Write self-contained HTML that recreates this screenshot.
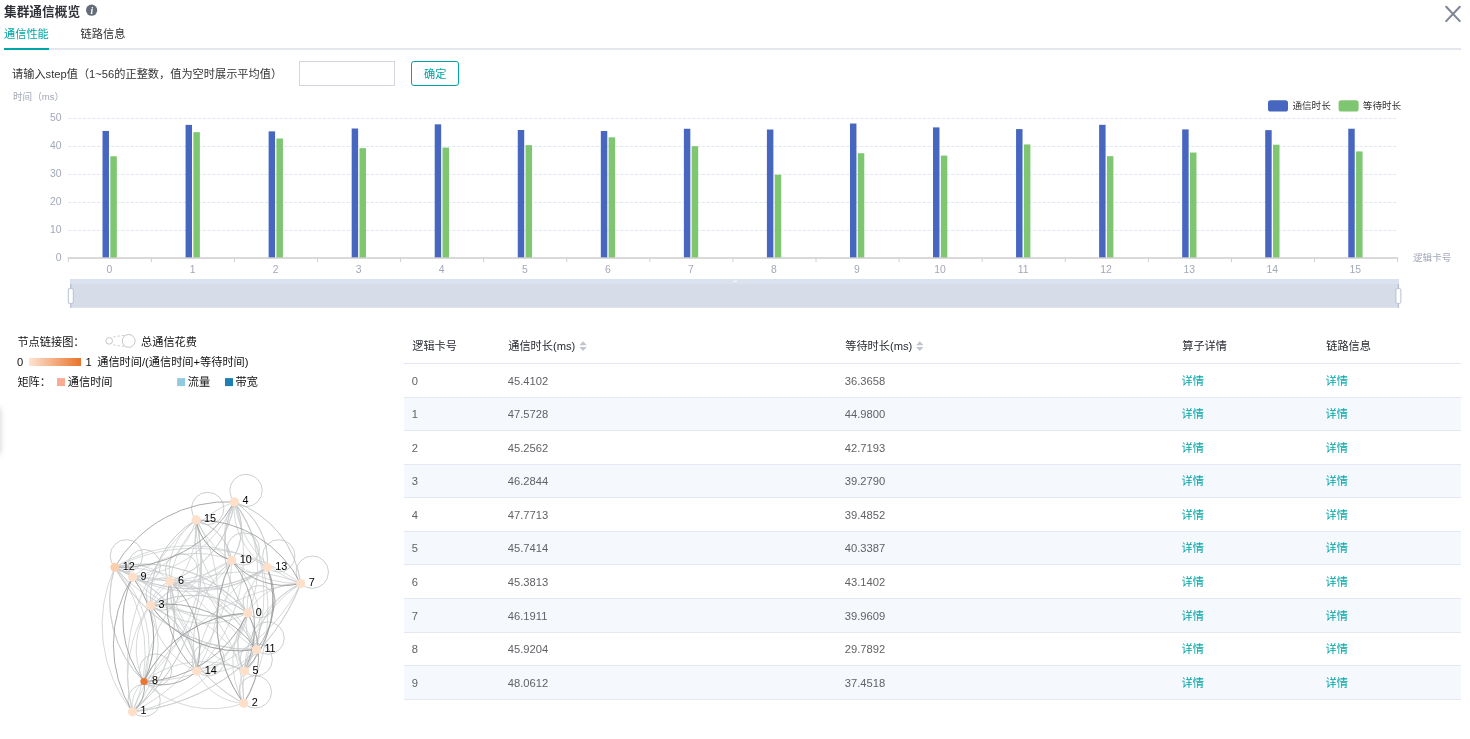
<!DOCTYPE html>
<html lang="zh-CN"><head><meta charset="utf-8"><title>集群通信概览</title>
<style>
html,body{margin:0;padding:0;background:#fff;}
body{width:1470px;height:739px;position:relative;overflow:hidden;font-family:"Liberation Sans", "Noto Sans CJK SC", sans-serif;}
.t{position:absolute;white-space:nowrap;}
.b{position:absolute;}
svg{position:absolute;left:0;top:0;}
svg text{font-family:"Liberation Sans", "Noto Sans CJK SC", sans-serif;}
</style></head><body>

<div class="t" style="left:4px;top:2.50px;font-size:12.7px;color:#2f3238;font-weight:bold;line-height:18px;">集群通信概览</div>
<svg width="110" height="24" viewBox="0 0 110 24"><circle cx="91.6" cy="10.2" r="5.6" fill="#656d7b"/><text x="91.7" y="13.6" font-size="9.5" font-weight="bold" font-style="italic" fill="#fff" text-anchor="middle" style="font-family:'Liberation Serif',serif">i</text></svg>
<svg width="1470" height="30" viewBox="0 0 1470 30"><path d="M1446.2 6.8 L1459.8 21.1 M1459.8 6.8 L1446.2 21.1" stroke="#7f8695" stroke-width="2.1" stroke-linecap="round" fill="none"/></svg>
<div class="t" style="left:4px;top:26.00px;font-size:11.2px;color:#00a5a7;font-weight:normal;line-height:16px;">通信性能</div>
<div class="t" style="left:80.6px;top:26.00px;font-size:11.2px;color:#303133;font-weight:normal;line-height:16px;">链路信息</div>
<div class="b" style="left:4px;top:47.7px;width:1457px;height:2px;background:#e4e7ed"></div>
<div class="b" style="left:4px;top:47.7px;width:45px;height:2px;background:#00a5a7"></div>
<div class="t" style="left:12px;top:66.00px;font-size:11.2px;color:#333;font-weight:normal;line-height:16px;">请输入step值（1~56的正整数，值为空时展示平均值）</div>
<div class="b" style="left:299px;top:61.3px;width:94px;height:22.6px;border:1px solid #d3d6df;background:#fff"></div>
<div class="b" style="left:411px;top:61.3px;width:46px;height:22.6px;border:1px solid #00a5a7;border-radius:3px;background:#fff"></div>
<div class="t" style="left:424px;top:65.60px;font-size:11.2px;color:#00a5a7;font-weight:normal;line-height:16px;">确定</div>
<div class="t" style="left:13px;top:90.00px;font-size:9.6px;color:#a3a8b8;font-weight:normal;line-height:14px;">时间（ms）</div>
<svg width="1470" height="320" viewBox="0 0 1470 320">
<line x1="68.2" y1="230.4" x2="1397.0" y2="230.4" stroke="#dfe5f2" stroke-width="1" stroke-dasharray="3.2 1.6"/>
<line x1="68.2" y1="202.4" x2="1397.0" y2="202.4" stroke="#dfe5f2" stroke-width="1" stroke-dasharray="3.2 1.6"/>
<line x1="68.2" y1="174.4" x2="1397.0" y2="174.4" stroke="#dfe5f2" stroke-width="1" stroke-dasharray="3.2 1.6"/>
<line x1="68.2" y1="146.4" x2="1397.0" y2="146.4" stroke="#dfe5f2" stroke-width="1" stroke-dasharray="3.2 1.6"/>
<line x1="68.2" y1="118.4" x2="1397.0" y2="118.4" stroke="#dfe5f2" stroke-width="1" stroke-dasharray="3.2 1.6"/>
<text x="61.5" y="261.3" font-size="10.4" fill="#a3a8b8" text-anchor="end">0</text>
<text x="61.5" y="233.3" font-size="10.4" fill="#a3a8b8" text-anchor="end">10</text>
<text x="61.5" y="205.3" font-size="10.4" fill="#a3a8b8" text-anchor="end">20</text>
<text x="61.5" y="177.3" font-size="10.4" fill="#a3a8b8" text-anchor="end">30</text>
<text x="61.5" y="149.3" font-size="10.4" fill="#a3a8b8" text-anchor="end">40</text>
<text x="61.5" y="121.3" font-size="10.4" fill="#a3a8b8" text-anchor="end">50</text>
<rect x="102.52" y="130.95" width="6.45" height="127.05" fill="#4666bf"/>
<rect x="110.32" y="156.28" width="6.5" height="101.72" fill="#7fc671"/>
<text x="109.5" y="272.6" font-size="10.4" fill="#a3a8b8" text-anchor="middle">0</text>
<rect x="185.57" y="124.90" width="6.45" height="133.10" fill="#4666bf"/>
<rect x="193.37" y="132.16" width="6.5" height="125.84" fill="#7fc671"/>
<text x="192.6" y="272.6" font-size="10.4" fill="#a3a8b8" text-anchor="middle">1</text>
<rect x="268.62" y="131.38" width="6.45" height="126.62" fill="#4666bf"/>
<rect x="276.43" y="138.49" width="6.5" height="119.51" fill="#7fc671"/>
<text x="275.6" y="272.6" font-size="10.4" fill="#a3a8b8" text-anchor="middle">2</text>
<rect x="351.68" y="128.50" width="6.45" height="129.50" fill="#4666bf"/>
<rect x="359.48" y="148.12" width="6.5" height="109.88" fill="#7fc671"/>
<text x="358.7" y="272.6" font-size="10.4" fill="#a3a8b8" text-anchor="middle">3</text>
<rect x="434.72" y="124.34" width="6.45" height="133.66" fill="#4666bf"/>
<rect x="442.52" y="147.54" width="6.5" height="110.46" fill="#7fc671"/>
<text x="441.7" y="272.6" font-size="10.4" fill="#a3a8b8" text-anchor="middle">4</text>
<rect x="517.77" y="130.02" width="6.45" height="127.98" fill="#4666bf"/>
<rect x="525.58" y="145.15" width="6.5" height="112.85" fill="#7fc671"/>
<text x="524.8" y="272.6" font-size="10.4" fill="#a3a8b8" text-anchor="middle">5</text>
<rect x="600.82" y="131.03" width="6.45" height="126.97" fill="#4666bf"/>
<rect x="608.62" y="137.31" width="6.5" height="120.69" fill="#7fc671"/>
<text x="607.8" y="272.6" font-size="10.4" fill="#a3a8b8" text-anchor="middle">6</text>
<rect x="683.88" y="128.76" width="6.45" height="129.24" fill="#4666bf"/>
<rect x="691.68" y="146.21" width="6.5" height="111.79" fill="#7fc671"/>
<text x="690.9" y="272.6" font-size="10.4" fill="#a3a8b8" text-anchor="middle">7</text>
<rect x="766.92" y="129.52" width="6.45" height="128.48" fill="#4666bf"/>
<rect x="774.73" y="174.69" width="6.5" height="83.31" fill="#7fc671"/>
<text x="773.9" y="272.6" font-size="10.4" fill="#a3a8b8" text-anchor="middle">8</text>
<rect x="849.98" y="123.53" width="6.45" height="134.47" fill="#4666bf"/>
<rect x="857.78" y="153.23" width="6.5" height="104.77" fill="#7fc671"/>
<text x="857.0" y="272.6" font-size="10.4" fill="#a3a8b8" text-anchor="middle">9</text>
<rect x="933.02" y="127.40" width="6.45" height="130.60" fill="#4666bf"/>
<rect x="940.83" y="155.62" width="6.5" height="102.38" fill="#7fc671"/>
<text x="940.0" y="272.6" font-size="10.4" fill="#a3a8b8" text-anchor="middle">10</text>
<rect x="1016.07" y="129.10" width="6.45" height="128.90" fill="#4666bf"/>
<rect x="1023.88" y="144.42" width="6.5" height="113.58" fill="#7fc671"/>
<text x="1023.1" y="272.6" font-size="10.4" fill="#a3a8b8" text-anchor="middle">11</text>
<rect x="1099.12" y="124.82" width="6.45" height="133.18" fill="#4666bf"/>
<rect x="1106.92" y="156.18" width="6.5" height="101.82" fill="#7fc671"/>
<text x="1106.1" y="272.6" font-size="10.4" fill="#a3a8b8" text-anchor="middle">12</text>
<rect x="1182.17" y="129.41" width="6.45" height="128.59" fill="#4666bf"/>
<rect x="1189.97" y="152.54" width="6.5" height="105.46" fill="#7fc671"/>
<text x="1189.2" y="272.6" font-size="10.4" fill="#a3a8b8" text-anchor="middle">13</text>
<rect x="1265.22" y="130.14" width="6.45" height="127.86" fill="#4666bf"/>
<rect x="1273.02" y="144.70" width="6.5" height="113.30" fill="#7fc671"/>
<text x="1272.2" y="272.6" font-size="10.4" fill="#a3a8b8" text-anchor="middle">14</text>
<rect x="1348.27" y="128.74" width="6.45" height="129.26" fill="#4666bf"/>
<rect x="1356.07" y="151.42" width="6.5" height="106.58" fill="#7fc671"/>
<text x="1355.3" y="272.6" font-size="10.4" fill="#a3a8b8" text-anchor="middle">15</text>
<line x1="67.8" y1="258" x2="1398.1" y2="258" stroke="#cdcdcd" stroke-width="1.4"/>
<line x1="68.30" y1="258" x2="68.30" y2="262" stroke="#cfcfcf" stroke-width="1"/>
<line x1="151.38" y1="258" x2="151.38" y2="262" stroke="#cfcfcf" stroke-width="1"/>
<line x1="234.46" y1="258" x2="234.46" y2="262" stroke="#cfcfcf" stroke-width="1"/>
<line x1="317.54" y1="258" x2="317.54" y2="262" stroke="#cfcfcf" stroke-width="1"/>
<line x1="400.62" y1="258" x2="400.62" y2="262" stroke="#cfcfcf" stroke-width="1"/>
<line x1="483.71" y1="258" x2="483.71" y2="262" stroke="#cfcfcf" stroke-width="1"/>
<line x1="566.79" y1="258" x2="566.79" y2="262" stroke="#cfcfcf" stroke-width="1"/>
<line x1="649.87" y1="258" x2="649.87" y2="262" stroke="#cfcfcf" stroke-width="1"/>
<line x1="732.95" y1="258" x2="732.95" y2="262" stroke="#cfcfcf" stroke-width="1"/>
<line x1="816.03" y1="258" x2="816.03" y2="262" stroke="#cfcfcf" stroke-width="1"/>
<line x1="899.11" y1="258" x2="899.11" y2="262" stroke="#cfcfcf" stroke-width="1"/>
<line x1="982.19" y1="258" x2="982.19" y2="262" stroke="#cfcfcf" stroke-width="1"/>
<line x1="1065.27" y1="258" x2="1065.27" y2="262" stroke="#cfcfcf" stroke-width="1"/>
<line x1="1148.36" y1="258" x2="1148.36" y2="262" stroke="#cfcfcf" stroke-width="1"/>
<line x1="1231.44" y1="258" x2="1231.44" y2="262" stroke="#cfcfcf" stroke-width="1"/>
<line x1="1314.52" y1="258" x2="1314.52" y2="262" stroke="#cfcfcf" stroke-width="1"/>
<line x1="1397.60" y1="258" x2="1397.60" y2="262" stroke="#cfcfcf" stroke-width="1"/>
<text x="1413" y="261.2" font-size="9.6" fill="#a3a8b8">逻辑卡号</text>
<rect x="1268" y="100.3" width="20" height="11.2" rx="2.6" fill="#4666bf"/>
<text x="1292.4" y="109.4" font-size="9.6" fill="#333">通信时长</text>
<rect x="1338.6" y="100.3" width="20" height="11.2" rx="2.6" fill="#7fc671"/>
<text x="1362.8" y="109.4" font-size="9.6" fill="#333">等待时长</text>
<rect x="70" y="279" width="1329" height="5" fill="#dae2ef"/>
<rect x="70" y="284" width="1329" height="23.8" fill="#d6dde8"/>
<line x1="70.8" y1="284" x2="70.8" y2="307.8" stroke="#b7c2d8" stroke-width="1.4"/>
<rect x="68.3" y="288.5" width="5" height="15" rx="1.6" fill="#fff" stroke="#b4bfd7" stroke-width="1"/>
<line x1="1398.4" y1="284" x2="1398.4" y2="307.8" stroke="#b7c2d8" stroke-width="1.4"/>
<rect x="1395.9" y="288.5" width="5" height="15" rx="1.6" fill="#fff" stroke="#b4bfd7" stroke-width="1"/>
<rect x="733" y="280.6" width="4" height="1.4" fill="#f3f6fb"/>
</svg>
<div class="t" style="left:17.4px;top:334.20px;font-size:11.2px;color:#111;font-weight:normal;line-height:16px;">节点链接图：</div>
<svg width="400" height="400" viewBox="0 0 400 400"><circle cx="109.2" cy="340.9" r="3.3" fill="#fff" stroke="#c6c6c6" stroke-width="1"/><circle cx="128.7" cy="340.9" r="6.4" fill="#fff" stroke="#c6c6c6" stroke-width="1"/><path d="M113.3 336.9 L124.6 335.3 M113.3 344.9 L124.6 346.5" stroke="#cfcfcf" stroke-width="1" stroke-dasharray="2.4 1.9" fill="none"/><defs><linearGradient id="og" x1="0" x2="1" y1="0" y2="0"><stop offset="0" stop-color="#fde4d1"/><stop offset="1" stop-color="#e8732b"/></linearGradient></defs><rect x="29" y="358" width="52" height="8" fill="url(#og)"/><rect x="57" y="378.1" width="8" height="8" fill="#fbab91"/><rect x="177.1" y="378.1" width="8" height="8" fill="#92cae0"/><rect x="225" y="378.1" width="8" height="8" fill="#1c80b5"/></svg>
<div class="t" style="left:141px;top:334.20px;font-size:11.2px;color:#111;font-weight:normal;line-height:16px;">总通信花费</div>
<div class="t" style="left:17px;top:354.30px;font-size:11.2px;color:#111;font-weight:normal;line-height:16px;">0</div>
<div class="t" style="left:85.6px;top:354.30px;font-size:11.2px;color:#111;font-weight:normal;line-height:16px;">1</div>
<div class="t" style="left:97.2px;top:354.30px;font-size:11.2px;color:#111;font-weight:normal;line-height:16px;">通信时间/(通信时间+等待时间)</div>
<div class="t" style="left:17.4px;top:374.30px;font-size:11.2px;color:#111;font-weight:normal;line-height:16px;">矩阵：</div>
<div class="t" style="left:67.8px;top:374.30px;font-size:11.2px;color:#111;font-weight:normal;line-height:16px;">通信时间</div>
<div class="t" style="left:187.8px;top:374.30px;font-size:11.2px;color:#111;font-weight:normal;line-height:16px;">流量</div>
<div class="t" style="left:235.6px;top:374.30px;font-size:11.2px;color:#111;font-weight:normal;line-height:16px;">带宽</div>
<div class="b" style="left:-8px;top:408px;width:8px;height:46px;box-shadow:0 0 6px rgba(0,0,0,.2)"></div>
<svg width="400" height="739" viewBox="0 0 400 739" fill="none">
<circle cx="246.0" cy="490.5" r="16.2" stroke="#c6c8ca" stroke-width="0.9"/>
<circle cx="207.7" cy="508.5" r="16.2" stroke="#c6c8ca" stroke-width="0.9"/>
<circle cx="126.4" cy="555.8" r="16.2" stroke="#c6c8ca" stroke-width="0.9"/>
<circle cx="144.2" cy="565.7" r="16.2" stroke="#c6c8ca" stroke-width="0.9"/>
<circle cx="181.6" cy="569.9" r="16.2" stroke="#c6c8ca" stroke-width="0.9"/>
<circle cx="243.3" cy="549.0" r="16.2" stroke="#c6c8ca" stroke-width="0.9"/>
<circle cx="278.8" cy="555.9" r="16.2" stroke="#c6c8ca" stroke-width="0.9"/>
<circle cx="312.3" cy="572.2" r="16.2" stroke="#c6c8ca" stroke-width="0.9"/>
<circle cx="162.2" cy="594.1" r="16.2" stroke="#c6c8ca" stroke-width="0.9"/>
<circle cx="259.3" cy="601.7" r="16.2" stroke="#c6c8ca" stroke-width="0.9"/>
<circle cx="268.0" cy="638.1" r="16.2" stroke="#c6c8ca" stroke-width="0.9"/>
<circle cx="208.3" cy="659.7" r="16.2" stroke="#c6c8ca" stroke-width="0.9"/>
<circle cx="256.2" cy="659.7" r="16.2" stroke="#c6c8ca" stroke-width="0.9"/>
<circle cx="155.6" cy="670.1" r="16.2" stroke="#c6c8ca" stroke-width="0.9"/>
<circle cx="255.3" cy="691.9" r="16.2" stroke="#c6c8ca" stroke-width="0.9"/>
<circle cx="144.1" cy="700.4" r="16.2" stroke="#c6c8ca" stroke-width="0.9"/>
<path d="M247.7 613.1 A144.1 144.1 0 0 1 132.5 711.8" stroke="#c6c8ca" stroke-width="0.7"/>
<path d="M243.7 703.3 A85.8 85.8 0 0 1 247.7 613.1" stroke="#c6c8ca" stroke-width="0.7"/>
<path d="M150.6 605.5 A92.5 92.5 0 0 1 247.7 613.1" stroke="#c6c8ca" stroke-width="0.7"/>
<path d="M150.6 605.5 A92.5 92.5 0 0 1 247.7 613.1" stroke="#c6c8ca" stroke-width="0.7"/>
<path d="M247.7 613.1 A92.5 92.5 0 0 1 150.6 605.5" stroke="#c6c8ca" stroke-width="0.7"/>
<path d="M247.7 613.1 A106.4 106.4 0 0 1 234.4 501.9" stroke="#c6c8ca" stroke-width="0.7"/>
<path d="M234.4 501.9 A106.4 106.4 0 0 1 247.7 613.1" stroke="#c6c8ca" stroke-width="0.7"/>
<path d="M247.7 613.1 A106.4 106.4 0 0 1 234.4 501.9" stroke="#c6c8ca" stroke-width="0.7"/>
<path d="M244.6 671.1 A55.2 55.2 0 0 1 247.7 613.1" stroke="#c6c8ca" stroke-width="0.7"/>
<path d="M244.6 671.1 A55.2 55.2 0 0 1 247.7 613.1" stroke="#c6c8ca" stroke-width="0.7"/>
<path d="M247.7 613.1 A55.2 55.2 0 0 1 244.6 671.1" stroke="#c6c8ca" stroke-width="0.7"/>
<path d="M170.0 581.3 A79.8 79.8 0 0 1 247.7 613.1" stroke="#c6c8ca" stroke-width="0.7"/>
<path d="M247.7 613.1 A57.6 57.6 0 0 1 300.7 583.6" stroke="#c6c8ca" stroke-width="0.7"/>
<path d="M144.0 681.5 A118.0 118.0 0 0 1 247.7 613.1" stroke="#c6c8ca" stroke-width="0.7"/>
<path d="M247.7 613.1 A114.6 114.6 0 0 1 132.6 577.1" stroke="#c6c8ca" stroke-width="0.7"/>
<path d="M256.4 649.5 A35.6 35.6 0 0 1 247.7 613.1" stroke="#c6c8ca" stroke-width="0.7"/>
<path d="M114.8 567.2 A133.6 133.6 0 0 1 247.7 613.1" stroke="#c6c8ca" stroke-width="0.7"/>
<path d="M114.8 567.2 A133.6 133.6 0 0 1 247.7 613.1" stroke="#c6c8ca" stroke-width="0.7"/>
<path d="M247.7 613.1 A133.6 133.6 0 0 1 114.8 567.2" stroke="#c6c8ca" stroke-width="0.7"/>
<path d="M247.7 613.1 A47.3 47.3 0 0 1 267.2 567.3" stroke="#c6c8ca" stroke-width="0.7"/>
<path d="M247.7 613.1 A73.4 73.4 0 0 1 196.7 671.1" stroke="#c6c8ca" stroke-width="0.7"/>
<path d="M247.7 613.1 A101.2 101.2 0 0 1 196.1 519.9" stroke="#c6c8ca" stroke-width="0.7"/>
<path d="M150.6 605.5 A102.4 102.4 0 0 1 132.5 711.8" stroke="#c6c8ca" stroke-width="0.7"/>
<path d="M170.0 581.3 A129.0 129.0 0 0 1 132.5 711.8" stroke="#c6c8ca" stroke-width="0.7"/>
<path d="M170.0 581.3 A129.0 129.0 0 0 1 132.5 711.8" stroke="#c6c8ca" stroke-width="0.7"/>
<path d="M132.5 711.8 A129.0 129.0 0 0 1 170.0 581.3" stroke="#c6c8ca" stroke-width="0.7"/>
<path d="M300.7 583.6 A200.9 200.9 0 0 1 132.5 711.8" stroke="#c6c8ca" stroke-width="0.7"/>
<path d="M300.7 583.6 A200.9 200.9 0 0 1 132.5 711.8" stroke="#c6c8ca" stroke-width="0.7"/>
<path d="M132.5 711.8 A200.9 200.9 0 0 1 300.7 583.6" stroke="#c6c8ca" stroke-width="0.7"/>
<path d="M132.5 711.8 A30.8 30.8 0 0 1 144.0 681.5" stroke="#c6c8ca" stroke-width="0.7"/>
<path d="M231.7 560.4 A172.0 172.0 0 0 1 132.5 711.8" stroke="#c6c8ca" stroke-width="0.7"/>
<path d="M114.8 567.2 A138.4 138.4 0 0 1 132.5 711.8" stroke="#c6c8ca" stroke-width="0.7"/>
<path d="M196.1 519.9 A192.1 192.1 0 0 1 132.5 711.8" stroke="#c6c8ca" stroke-width="0.7"/>
<path d="M196.1 519.9 A192.1 192.1 0 0 1 132.5 711.8" stroke="#c6c8ca" stroke-width="0.7"/>
<path d="M132.5 711.8 A192.1 192.1 0 0 1 196.1 519.9" stroke="#c6c8ca" stroke-width="0.7"/>
<path d="M234.4 501.9 A191.5 191.5 0 0 1 243.7 703.3" stroke="#c6c8ca" stroke-width="0.7"/>
<path d="M243.7 703.3 A30.6 30.6 0 0 1 244.6 671.1" stroke="#c6c8ca" stroke-width="0.7"/>
<path d="M243.7 703.3 A135.4 135.4 0 0 1 170.0 581.3" stroke="#c6c8ca" stroke-width="0.7"/>
<path d="M170.0 581.3 A135.4 135.4 0 0 1 243.7 703.3" stroke="#c6c8ca" stroke-width="0.7"/>
<path d="M243.7 703.3 A135.4 135.4 0 0 1 170.0 581.3" stroke="#c6c8ca" stroke-width="0.7"/>
<path d="M243.7 703.3 A125.9 125.9 0 0 1 300.7 583.6" stroke="#c6c8ca" stroke-width="0.7"/>
<path d="M243.7 703.3 A97.0 97.0 0 0 1 144.0 681.5" stroke="#c6c8ca" stroke-width="0.7"/>
<path d="M243.7 703.3 A136.2 136.2 0 0 1 231.7 560.4" stroke="#c6c8ca" stroke-width="0.7"/>
<path d="M243.7 703.3 A54.1 54.1 0 0 1 196.7 671.1" stroke="#c6c8ca" stroke-width="0.7"/>
<path d="M150.6 605.5 A108.9 108.9 0 0 1 244.6 671.1" stroke="#c6c8ca" stroke-width="0.7"/>
<path d="M150.6 605.5 A29.5 29.5 0 0 1 170.0 581.3" stroke="#c6c8ca" stroke-width="0.7"/>
<path d="M150.6 605.5 A144.1 144.1 0 0 1 300.7 583.6" stroke="#c6c8ca" stroke-width="0.7"/>
<path d="M144.0 681.5 A72.5 72.5 0 0 1 150.6 605.5" stroke="#c6c8ca" stroke-width="0.7"/>
<path d="M231.7 560.4 A88.2 88.2 0 0 1 150.6 605.5" stroke="#c6c8ca" stroke-width="0.7"/>
<path d="M256.4 649.5 A108.9 108.9 0 0 1 150.6 605.5" stroke="#c6c8ca" stroke-width="0.7"/>
<path d="M150.6 605.5 A76.2 76.2 0 0 1 196.7 671.1" stroke="#c6c8ca" stroke-width="0.7"/>
<path d="M196.7 671.1 A76.2 76.2 0 0 1 150.6 605.5" stroke="#c6c8ca" stroke-width="0.7"/>
<path d="M150.6 605.5 A76.2 76.2 0 0 1 196.7 671.1" stroke="#c6c8ca" stroke-width="0.7"/>
<path d="M150.6 605.5 A92.1 92.1 0 0 1 196.1 519.9" stroke="#c6c8ca" stroke-width="0.7"/>
<path d="M196.1 519.9 A92.1 92.1 0 0 1 150.6 605.5" stroke="#c6c8ca" stroke-width="0.7"/>
<path d="M150.6 605.5 A92.1 92.1 0 0 1 196.1 519.9" stroke="#c6c8ca" stroke-width="0.7"/>
<path d="M234.4 501.9 A161.0 161.0 0 0 1 244.6 671.1" stroke="#c6c8ca" stroke-width="0.7"/>
<path d="M234.4 501.9 A97.1 97.1 0 0 1 170.0 581.3" stroke="#c6c8ca" stroke-width="0.7"/>
<path d="M170.0 581.3 A97.1 97.1 0 0 1 234.4 501.9" stroke="#c6c8ca" stroke-width="0.7"/>
<path d="M234.4 501.9 A97.1 97.1 0 0 1 170.0 581.3" stroke="#c6c8ca" stroke-width="0.7"/>
<path d="M234.4 501.9 A100.0 100.0 0 0 1 300.7 583.6" stroke="#c6c8ca" stroke-width="0.7"/>
<path d="M300.7 583.6 A100.0 100.0 0 0 1 234.4 501.9" stroke="#c6c8ca" stroke-width="0.7"/>
<path d="M234.4 501.9 A100.0 100.0 0 0 1 300.7 583.6" stroke="#c6c8ca" stroke-width="0.7"/>
<path d="M234.4 501.9 A120.2 120.2 0 0 1 132.6 577.1" stroke="#c6c8ca" stroke-width="0.7"/>
<path d="M234.4 501.9 A55.6 55.6 0 0 1 231.7 560.4" stroke="#c6c8ca" stroke-width="0.7"/>
<path d="M231.7 560.4 A55.6 55.6 0 0 1 234.4 501.9" stroke="#c6c8ca" stroke-width="0.7"/>
<path d="M234.4 501.9 A55.6 55.6 0 0 1 231.7 560.4" stroke="#c6c8ca" stroke-width="0.7"/>
<path d="M234.4 501.9 A69.5 69.5 0 0 1 267.2 567.3" stroke="#c6c8ca" stroke-width="0.7"/>
<path d="M267.2 567.3 A69.5 69.5 0 0 1 234.4 501.9" stroke="#c6c8ca" stroke-width="0.7"/>
<path d="M234.4 501.9 A69.5 69.5 0 0 1 267.2 567.3" stroke="#c6c8ca" stroke-width="0.7"/>
<path d="M234.4 501.9 A164.7 164.7 0 0 1 196.7 671.1" stroke="#c6c8ca" stroke-width="0.7"/>
<path d="M244.6 671.1 A110.9 110.9 0 0 1 170.0 581.3" stroke="#c6c8ca" stroke-width="0.7"/>
<path d="M244.6 671.1 A98.7 98.7 0 0 1 300.7 583.6" stroke="#c6c8ca" stroke-width="0.7"/>
<path d="M144.0 681.5 A96.1 96.1 0 0 1 244.6 671.1" stroke="#c6c8ca" stroke-width="0.7"/>
<path d="M244.6 671.1 A23.4 23.4 0 0 1 256.4 649.5" stroke="#c6c8ca" stroke-width="0.7"/>
<path d="M256.4 649.5 A23.4 23.4 0 0 1 244.6 671.1" stroke="#c6c8ca" stroke-width="0.7"/>
<path d="M244.6 671.1 A23.4 23.4 0 0 1 256.4 649.5" stroke="#c6c8ca" stroke-width="0.7"/>
<path d="M267.2 567.3 A100.9 100.9 0 0 1 244.6 671.1" stroke="#c6c8ca" stroke-width="0.7"/>
<path d="M196.7 671.1 A45.5 45.5 0 0 1 244.6 671.1" stroke="#c6c8ca" stroke-width="0.7"/>
<path d="M231.7 560.4 A61.9 61.9 0 0 1 170.0 581.3" stroke="#c6c8ca" stroke-width="0.7"/>
<path d="M170.0 581.3 A104.6 104.6 0 0 1 256.4 649.5" stroke="#c6c8ca" stroke-width="0.7"/>
<path d="M114.8 567.2 A54.1 54.1 0 0 1 170.0 581.3" stroke="#c6c8ca" stroke-width="0.7"/>
<path d="M267.2 567.3 A93.3 93.3 0 0 1 170.0 581.3" stroke="#c6c8ca" stroke-width="0.7"/>
<path d="M170.0 581.3 A63.4 63.4 0 0 1 196.1 519.9" stroke="#c6c8ca" stroke-width="0.7"/>
<path d="M300.7 583.6 A175.5 175.5 0 0 1 144.0 681.5" stroke="#c6c8ca" stroke-width="0.7"/>
<path d="M256.4 649.5 A75.4 75.4 0 0 1 300.7 583.6" stroke="#c6c8ca" stroke-width="0.7"/>
<path d="M114.8 567.2 A177.3 177.3 0 0 1 300.7 583.6" stroke="#c6c8ca" stroke-width="0.7"/>
<path d="M300.7 583.6 A116.3 116.3 0 0 1 196.1 519.9" stroke="#c6c8ca" stroke-width="0.7"/>
<path d="M132.6 577.1 A99.8 99.8 0 0 1 144.0 681.5" stroke="#c6c8ca" stroke-width="0.7"/>
<path d="M144.0 681.5 A142.0 142.0 0 0 1 231.7 560.4" stroke="#c6c8ca" stroke-width="0.7"/>
<path d="M144.0 681.5 A112.1 112.1 0 0 1 114.8 567.2" stroke="#c6c8ca" stroke-width="0.7"/>
<path d="M114.8 567.2 A112.1 112.1 0 0 1 144.0 681.5" stroke="#c6c8ca" stroke-width="0.7"/>
<path d="M144.0 681.5 A112.1 112.1 0 0 1 114.8 567.2" stroke="#c6c8ca" stroke-width="0.7"/>
<path d="M196.1 519.9 A161.3 161.3 0 0 1 144.0 681.5" stroke="#c6c8ca" stroke-width="0.7"/>
<path d="M132.6 577.1 A95.5 95.5 0 0 1 231.7 560.4" stroke="#c6c8ca" stroke-width="0.7"/>
<path d="M132.6 577.1 A136.2 136.2 0 0 1 256.4 649.5" stroke="#c6c8ca" stroke-width="0.7"/>
<path d="M114.8 567.2 A19.3 19.3 0 0 1 132.6 577.1" stroke="#c6c8ca" stroke-width="0.7"/>
<path d="M267.2 567.3 A128.2 128.2 0 0 1 132.6 577.1" stroke="#c6c8ca" stroke-width="0.7"/>
<path d="M132.6 577.1 A108.1 108.1 0 0 1 196.7 671.1" stroke="#c6c8ca" stroke-width="0.7"/>
<path d="M196.1 519.9 A81.2 81.2 0 0 1 132.6 577.1" stroke="#c6c8ca" stroke-width="0.7"/>
<path d="M231.7 560.4 A87.8 87.8 0 0 1 256.4 649.5" stroke="#c6c8ca" stroke-width="0.7"/>
<path d="M231.7 560.4 A111.2 111.2 0 0 1 114.8 567.2" stroke="#c6c8ca" stroke-width="0.7"/>
<path d="M196.7 671.1 A110.3 110.3 0 0 1 231.7 560.4" stroke="#c6c8ca" stroke-width="0.7"/>
<path d="M196.1 519.9 A51.2 51.2 0 0 1 231.7 560.4" stroke="#c6c8ca" stroke-width="0.7"/>
<path d="M196.1 519.9 A51.2 51.2 0 0 1 231.7 560.4" stroke="#c6c8ca" stroke-width="0.7"/>
<path d="M231.7 560.4 A51.2 51.2 0 0 1 196.1 519.9" stroke="#c6c8ca" stroke-width="0.7"/>
<path d="M256.4 649.5 A155.6 155.6 0 0 1 114.8 567.2" stroke="#c6c8ca" stroke-width="0.7"/>
<path d="M114.8 567.2 A155.6 155.6 0 0 1 256.4 649.5" stroke="#c6c8ca" stroke-width="0.7"/>
<path d="M256.4 649.5 A155.6 155.6 0 0 1 114.8 567.2" stroke="#c6c8ca" stroke-width="0.7"/>
<path d="M256.4 649.5 A60.3 60.3 0 0 1 196.7 671.1" stroke="#c6c8ca" stroke-width="0.7"/>
<path d="M256.4 649.5 A135.8 135.8 0 0 1 196.1 519.9" stroke="#c6c8ca" stroke-width="0.7"/>
<path d="M267.2 567.3 A144.8 144.8 0 0 1 114.8 567.2" stroke="#c6c8ca" stroke-width="0.7"/>
<path d="M267.2 567.3 A144.8 144.8 0 0 1 114.8 567.2" stroke="#c6c8ca" stroke-width="0.7"/>
<path d="M114.8 567.2 A144.8 144.8 0 0 1 267.2 567.3" stroke="#c6c8ca" stroke-width="0.7"/>
<path d="M114.8 567.2 A125.7 125.7 0 0 1 196.7 671.1" stroke="#c6c8ca" stroke-width="0.7"/>
<path d="M196.7 671.1 A119.2 119.2 0 0 1 267.2 567.3" stroke="#c6c8ca" stroke-width="0.7"/>
<path d="M196.1 519.9 A143.6 143.6 0 0 1 196.7 671.1" stroke="#c6c8ca" stroke-width="0.7"/>
<path d="M132.5 711.8 A138.4 138.4 0 0 1 114.8 567.2" stroke="#c6c8ca" stroke-width="0.7"/>
<path d="M114.8 567.2 A129.5 129.5 0 0 1 234.4 501.9" stroke="#959595" stroke-width="0.8"/>
<path d="M234.4 501.9 A129.5 129.5 0 0 1 114.8 567.2" stroke="#959595" stroke-width="0.8"/>
<path d="M231.7 560.4 A51.2 51.2 0 0 1 196.1 519.9" stroke="#959595" stroke-width="0.8"/>
<path d="M196.1 519.9 A116.3 116.3 0 0 1 300.7 583.6" stroke="#959595" stroke-width="0.8"/>
<path d="M300.7 583.6 A69.2 69.2 0 0 1 231.7 560.4" stroke="#959595" stroke-width="0.8"/>
<path d="M144.0 681.5 A118.0 118.0 0 0 1 247.7 613.1" stroke="#959595" stroke-width="0.8"/>
<path d="M150.6 605.5 A108.9 108.9 0 0 1 256.4 649.5" stroke="#959595" stroke-width="0.8"/>
<path d="M256.4 649.5 A108.9 108.9 0 0 1 150.6 605.5" stroke="#959595" stroke-width="0.8"/>
<path d="M196.7 671.1 A51.0 51.0 0 0 1 144.0 681.5" stroke="#959595" stroke-width="0.8"/>
<path d="M170.0 581.3 A89.0 89.0 0 0 1 196.7 671.1" stroke="#959595" stroke-width="0.8"/>
<path d="M196.7 671.1 A89.0 89.0 0 0 1 170.0 581.3" stroke="#959595" stroke-width="0.8"/>
<path d="M243.7 703.3 A136.2 136.2 0 0 1 231.7 560.4" stroke="#959595" stroke-width="0.8"/>
<path d="M267.2 567.3 A100.9 100.9 0 0 1 244.6 671.1" stroke="#959595" stroke-width="0.8"/>
<path d="M132.6 577.1 A99.8 99.8 0 0 1 144.0 681.5" stroke="#959595" stroke-width="0.8"/>
<path d="M144.0 681.5 A99.8 99.8 0 0 1 132.6 577.1" stroke="#959595" stroke-width="0.8"/>
<path d="M132.5 711.8 A128.0 128.0 0 0 1 132.6 577.1" stroke="#959595" stroke-width="0.8"/>
<path d="M144.0 681.5 A30.8 30.8 0 0 1 132.5 711.8" stroke="#959595" stroke-width="0.8"/>
<path d="M247.7 613.1 A85.8 85.8 0 0 1 243.7 703.3" stroke="#959595" stroke-width="0.8"/>
<path d="M267.2 567.3 A78.8 78.8 0 0 1 256.4 649.5" stroke="#959595" stroke-width="0.8"/>
<path d="M231.7 560.4 A105.9 105.9 0 0 1 244.6 671.1" stroke="#959595" stroke-width="0.8"/>
<path d="M247.7 613.1 A118.0 118.0 0 0 1 144.0 681.5" stroke="#959595" stroke-width="0.8"/>
<circle cx="234.4" cy="501.9" r="4.6" fill="#fddfca"/>
<text x="242.4" y="504.4" font-size="10.8" fill="#000">4</text>
<circle cx="196.1" cy="519.9" r="4.6" fill="#fddfca"/>
<text x="204.1" y="522.4" font-size="10.8" fill="#000">15</text>
<circle cx="114.8" cy="567.2" r="4.5" fill="#fbcfae"/>
<text x="122.8" y="569.7" font-size="10.8" fill="#000">12</text>
<circle cx="132.6" cy="577.1" r="4.6" fill="#fddfca"/>
<text x="140.6" y="579.6" font-size="10.8" fill="#000">9</text>
<circle cx="170.0" cy="581.3" r="4.6" fill="#fddfca"/>
<text x="178.0" y="583.8" font-size="10.8" fill="#000">6</text>
<circle cx="231.7" cy="560.4" r="4.6" fill="#fddfca"/>
<text x="239.7" y="562.9" font-size="10.8" fill="#000">10</text>
<circle cx="267.2" cy="567.3" r="4.6" fill="#fddfca"/>
<text x="275.2" y="569.8" font-size="10.8" fill="#000">13</text>
<circle cx="300.7" cy="583.6" r="4.6" fill="#fddfca"/>
<text x="308.7" y="586.1" font-size="10.8" fill="#000">7</text>
<circle cx="150.6" cy="605.5" r="4.6" fill="#fddfca"/>
<text x="158.6" y="608.0" font-size="10.8" fill="#000">3</text>
<circle cx="247.7" cy="613.1" r="4.6" fill="#fddfca"/>
<text x="255.7" y="615.6" font-size="10.8" fill="#000">0</text>
<circle cx="256.4" cy="649.5" r="4.6" fill="#fddfca"/>
<text x="264.4" y="652.0" font-size="10.8" fill="#000">11</text>
<circle cx="196.7" cy="671.1" r="4.6" fill="#fddfca"/>
<text x="204.7" y="673.6" font-size="10.8" fill="#000">14</text>
<circle cx="244.6" cy="671.1" r="4.6" fill="#fddfca"/>
<text x="252.6" y="673.6" font-size="10.8" fill="#000">5</text>
<circle cx="144.0" cy="681.5" r="3.6" fill="#ea7632"/>
<text x="152.0" y="684.0" font-size="10.8" fill="#000">8</text>
<circle cx="243.7" cy="703.3" r="4.6" fill="#fddfca"/>
<text x="251.7" y="705.8" font-size="10.8" fill="#000">2</text>
<circle cx="132.5" cy="711.8" r="4.6" fill="#fddfca"/>
<text x="140.5" y="714.3" font-size="10.8" fill="#000">1</text>
</svg>
<div class="b" style="left:404.2px;top:363.60px;width:1056.8px;height:33.55px;background:#fff"></div>
<div class="b" style="left:404.2px;top:397.15px;width:1056.8px;height:33.55px;background:#f5f8fd"></div>
<div class="b" style="left:404.2px;top:430.70px;width:1056.8px;height:33.55px;background:#fff"></div>
<div class="b" style="left:404.2px;top:464.25px;width:1056.8px;height:33.55px;background:#f5f8fd"></div>
<div class="b" style="left:404.2px;top:497.80px;width:1056.8px;height:33.55px;background:#fff"></div>
<div class="b" style="left:404.2px;top:531.35px;width:1056.8px;height:33.55px;background:#f5f8fd"></div>
<div class="b" style="left:404.2px;top:564.90px;width:1056.8px;height:33.55px;background:#fff"></div>
<div class="b" style="left:404.2px;top:598.45px;width:1056.8px;height:33.55px;background:#f5f8fd"></div>
<div class="b" style="left:404.2px;top:632.00px;width:1056.8px;height:33.55px;background:#fff"></div>
<div class="b" style="left:404.2px;top:665.55px;width:1056.8px;height:33.55px;background:#f5f8fd"></div>
<div class="b" style="left:404.2px;top:363.10px;width:1056.8px;height:1px;background:#e2e7f3"></div>
<div class="b" style="left:404.2px;top:396.65px;width:1056.8px;height:1px;background:#e4e8f3"></div>
<div class="b" style="left:404.2px;top:430.20px;width:1056.8px;height:1px;background:#e4e8f3"></div>
<div class="b" style="left:404.2px;top:463.75px;width:1056.8px;height:1px;background:#e4e8f3"></div>
<div class="b" style="left:404.2px;top:497.30px;width:1056.8px;height:1px;background:#e4e8f3"></div>
<div class="b" style="left:404.2px;top:530.85px;width:1056.8px;height:1px;background:#e4e8f3"></div>
<div class="b" style="left:404.2px;top:564.40px;width:1056.8px;height:1px;background:#e4e8f3"></div>
<div class="b" style="left:404.2px;top:597.95px;width:1056.8px;height:1px;background:#e4e8f3"></div>
<div class="b" style="left:404.2px;top:631.50px;width:1056.8px;height:1px;background:#e4e8f3"></div>
<div class="b" style="left:404.2px;top:665.05px;width:1056.8px;height:1px;background:#e4e8f3"></div>
<div class="b" style="left:404.2px;top:698.60px;width:1056.8px;height:1px;background:#e4e8f3"></div>
<div class="t" style="left:412.2px;top:338.00px;font-size:11.2px;color:#282b33;font-weight:normal;line-height:16px;">逻辑卡号</div>
<div class="t" style="left:508.2px;top:338.00px;font-size:11.2px;color:#282b33;font-weight:normal;line-height:16px;">通信时长(ms)</div>
<div class="t" style="left:845.2px;top:338.00px;font-size:11.2px;color:#282b33;font-weight:normal;line-height:16px;">等待时长(ms)</div>
<div class="t" style="left:1182.2px;top:338.00px;font-size:11.2px;color:#282b33;font-weight:normal;line-height:16px;">算子详情</div>
<div class="t" style="left:1326.2px;top:338.00px;font-size:11.2px;color:#282b33;font-weight:normal;line-height:16px;">链路信息</div>
<svg width="1470" height="400" viewBox="0 0 1470 400">
<path d="M579.4 345.3 L583.1 341.2 L586.8000000000001 345.3 Z M579.4 347.0 L583.1 351.0 L586.8000000000001 347.0 Z" fill="#c0c4cc"/>
<path d="M916.0999999999999 345.3 L919.8 341.2 L923.5 345.3 Z M916.0999999999999 347.0 L919.8 351.0 L923.5 347.0 Z" fill="#c0c4cc"/>
</svg>
<div class="t" style="left:411.8px;top:372.68px;font-size:11.2px;color:#606266;font-weight:normal;line-height:16px;">0</div>
<div class="t" style="left:507.8px;top:372.68px;font-size:11.2px;color:#606266;font-weight:normal;line-height:16px;">45.4102</div>
<div class="t" style="left:844.8000000000001px;top:372.68px;font-size:11.2px;color:#606266;font-weight:normal;line-height:16px;">36.3658</div>
<div class="t" style="left:1181.5px;top:372.68px;font-size:11.2px;color:#00a5a7;font-weight:normal;line-height:16px;">详情</div>
<div class="t" style="left:1325.5px;top:372.68px;font-size:11.2px;color:#00a5a7;font-weight:normal;line-height:16px;">详情</div>
<div class="t" style="left:411.8px;top:406.23px;font-size:11.2px;color:#606266;font-weight:normal;line-height:16px;">1</div>
<div class="t" style="left:507.8px;top:406.23px;font-size:11.2px;color:#606266;font-weight:normal;line-height:16px;">47.5728</div>
<div class="t" style="left:844.8000000000001px;top:406.23px;font-size:11.2px;color:#606266;font-weight:normal;line-height:16px;">44.9800</div>
<div class="t" style="left:1181.5px;top:406.23px;font-size:11.2px;color:#00a5a7;font-weight:normal;line-height:16px;">详情</div>
<div class="t" style="left:1325.5px;top:406.23px;font-size:11.2px;color:#00a5a7;font-weight:normal;line-height:16px;">详情</div>
<div class="t" style="left:411.8px;top:439.78px;font-size:11.2px;color:#606266;font-weight:normal;line-height:16px;">2</div>
<div class="t" style="left:507.8px;top:439.78px;font-size:11.2px;color:#606266;font-weight:normal;line-height:16px;">45.2562</div>
<div class="t" style="left:844.8000000000001px;top:439.78px;font-size:11.2px;color:#606266;font-weight:normal;line-height:16px;">42.7193</div>
<div class="t" style="left:1181.5px;top:439.78px;font-size:11.2px;color:#00a5a7;font-weight:normal;line-height:16px;">详情</div>
<div class="t" style="left:1325.5px;top:439.78px;font-size:11.2px;color:#00a5a7;font-weight:normal;line-height:16px;">详情</div>
<div class="t" style="left:411.8px;top:473.32px;font-size:11.2px;color:#606266;font-weight:normal;line-height:16px;">3</div>
<div class="t" style="left:507.8px;top:473.32px;font-size:11.2px;color:#606266;font-weight:normal;line-height:16px;">46.2844</div>
<div class="t" style="left:844.8000000000001px;top:473.32px;font-size:11.2px;color:#606266;font-weight:normal;line-height:16px;">39.2790</div>
<div class="t" style="left:1181.5px;top:473.32px;font-size:11.2px;color:#00a5a7;font-weight:normal;line-height:16px;">详情</div>
<div class="t" style="left:1325.5px;top:473.32px;font-size:11.2px;color:#00a5a7;font-weight:normal;line-height:16px;">详情</div>
<div class="t" style="left:411.8px;top:506.88px;font-size:11.2px;color:#606266;font-weight:normal;line-height:16px;">4</div>
<div class="t" style="left:507.8px;top:506.88px;font-size:11.2px;color:#606266;font-weight:normal;line-height:16px;">47.7713</div>
<div class="t" style="left:844.8000000000001px;top:506.88px;font-size:11.2px;color:#606266;font-weight:normal;line-height:16px;">39.4852</div>
<div class="t" style="left:1181.5px;top:506.88px;font-size:11.2px;color:#00a5a7;font-weight:normal;line-height:16px;">详情</div>
<div class="t" style="left:1325.5px;top:506.88px;font-size:11.2px;color:#00a5a7;font-weight:normal;line-height:16px;">详情</div>
<div class="t" style="left:411.8px;top:540.42px;font-size:11.2px;color:#606266;font-weight:normal;line-height:16px;">5</div>
<div class="t" style="left:507.8px;top:540.42px;font-size:11.2px;color:#606266;font-weight:normal;line-height:16px;">45.7414</div>
<div class="t" style="left:844.8000000000001px;top:540.42px;font-size:11.2px;color:#606266;font-weight:normal;line-height:16px;">40.3387</div>
<div class="t" style="left:1181.5px;top:540.42px;font-size:11.2px;color:#00a5a7;font-weight:normal;line-height:16px;">详情</div>
<div class="t" style="left:1325.5px;top:540.42px;font-size:11.2px;color:#00a5a7;font-weight:normal;line-height:16px;">详情</div>
<div class="t" style="left:411.8px;top:573.97px;font-size:11.2px;color:#606266;font-weight:normal;line-height:16px;">6</div>
<div class="t" style="left:507.8px;top:573.97px;font-size:11.2px;color:#606266;font-weight:normal;line-height:16px;">45.3813</div>
<div class="t" style="left:844.8000000000001px;top:573.97px;font-size:11.2px;color:#606266;font-weight:normal;line-height:16px;">43.1402</div>
<div class="t" style="left:1181.5px;top:573.97px;font-size:11.2px;color:#00a5a7;font-weight:normal;line-height:16px;">详情</div>
<div class="t" style="left:1325.5px;top:573.97px;font-size:11.2px;color:#00a5a7;font-weight:normal;line-height:16px;">详情</div>
<div class="t" style="left:411.8px;top:607.52px;font-size:11.2px;color:#606266;font-weight:normal;line-height:16px;">7</div>
<div class="t" style="left:507.8px;top:607.52px;font-size:11.2px;color:#606266;font-weight:normal;line-height:16px;">46.1911</div>
<div class="t" style="left:844.8000000000001px;top:607.52px;font-size:11.2px;color:#606266;font-weight:normal;line-height:16px;">39.9609</div>
<div class="t" style="left:1181.5px;top:607.52px;font-size:11.2px;color:#00a5a7;font-weight:normal;line-height:16px;">详情</div>
<div class="t" style="left:1325.5px;top:607.52px;font-size:11.2px;color:#00a5a7;font-weight:normal;line-height:16px;">详情</div>
<div class="t" style="left:411.8px;top:641.07px;font-size:11.2px;color:#606266;font-weight:normal;line-height:16px;">8</div>
<div class="t" style="left:507.8px;top:641.07px;font-size:11.2px;color:#606266;font-weight:normal;line-height:16px;">45.9204</div>
<div class="t" style="left:844.8000000000001px;top:641.07px;font-size:11.2px;color:#606266;font-weight:normal;line-height:16px;">29.7892</div>
<div class="t" style="left:1181.5px;top:641.07px;font-size:11.2px;color:#00a5a7;font-weight:normal;line-height:16px;">详情</div>
<div class="t" style="left:1325.5px;top:641.07px;font-size:11.2px;color:#00a5a7;font-weight:normal;line-height:16px;">详情</div>
<div class="t" style="left:411.8px;top:674.62px;font-size:11.2px;color:#606266;font-weight:normal;line-height:16px;">9</div>
<div class="t" style="left:507.8px;top:674.62px;font-size:11.2px;color:#606266;font-weight:normal;line-height:16px;">48.0612</div>
<div class="t" style="left:844.8000000000001px;top:674.62px;font-size:11.2px;color:#606266;font-weight:normal;line-height:16px;">37.4518</div>
<div class="t" style="left:1181.5px;top:674.62px;font-size:11.2px;color:#00a5a7;font-weight:normal;line-height:16px;">详情</div>
<div class="t" style="left:1325.5px;top:674.62px;font-size:11.2px;color:#00a5a7;font-weight:normal;line-height:16px;">详情</div>
</body></html>
